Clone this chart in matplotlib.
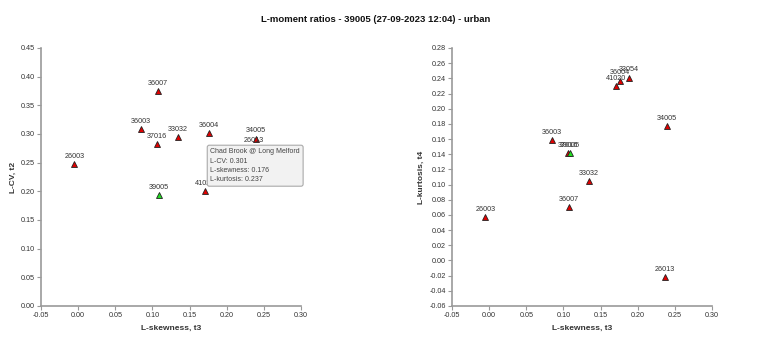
import matplotlib
matplotlib.use("Agg")
import matplotlib.pyplot as plt

plt.rcParams['font.family'] = ['Liberation Sans', 'DejaVu Sans']

stations = ["26003", "36007", "36003", "37016", "33032", "36004", "34005",
            "26013", "41020", "33054", "39005"]
t3 = [-0.005, 0.107, 0.084, 0.106, 0.134, 0.176, 0.239, 0.237, 0.171, 0.188, 0.109]
lcv = [0.248, 0.375, 0.308, 0.283, 0.295, 0.301, 0.292, 0.276, 0.200, 0.235, 0.193]
t4 = [0.057, 0.070, 0.159, 0.141, 0.105, 0.237, 0.177, -0.022, 0.230, 0.241, 0.142]
target = "39005"
tip_station = "36004"
tip_name = "Chad Brook @ Long Melford"

title = "L-moment ratios - 39005 (27-09-2023 12:04) - urban"
xlabel = "L-skewness, t3"
ylabel_left = "L-CV, t2"
ylabel_right = "L-kurtosis, t4"
xticks = [-0.05, 0.00, 0.05, 0.10, 0.15, 0.20, 0.25, 0.30]
yticks_left = [0.00, 0.05, 0.10, 0.15, 0.20, 0.25, 0.30, 0.35, 0.40, 0.45]
yticks_right = [-0.06, -0.04, -0.02, 0.00, 0.02, 0.04, 0.06, 0.08, 0.10, 0.12,
                0.14, 0.16, 0.18, 0.20, 0.22, 0.24, 0.26, 0.28]

fig = plt.figure(figsize=(7.74, 3.6), dpi=100)
axL = fig.add_axes([41/774, 54/360, 260/774, 258/360])
axR = fig.add_axes([452/774, 54/360, 260/774, 258/360])

spine_c = "#999999"
text_c = "#333333"

def style(ax, yt, ylab):
    for s in ["top", "right"]:
        ax.spines[s].set_visible(False)
    for s in ["left", "bottom"]:
        ax.spines[s].set_color(spine_c)
        ax.spines[s].set_linewidth(1.2)
    ax.set_xlim(xticks[0], xticks[-1])
    ax.set_ylim(yt[0], yt[-1])
    ax.set_xticks(xticks)
    ax.set_xticklabels([f"{v:.2f}" for v in xticks])
    ax.set_yticks(yt)
    ax.set_yticklabels([f"{v:.2f}" for v in yt])
    ax.tick_params(axis="both", direction="out", length=3, width=0.8,
                   color=spine_c, labelsize=5.2, labelcolor=text_c, pad=1.5)
    ax.set_xlabel(xlabel, fontsize=6, fontweight="bold", color=text_c, labelpad=4)
    ax.set_ylabel(ylab, fontsize=6, fontweight="bold", color=text_c, labelpad=3)

def draw(ax, ys):
    for name, x, y in zip(stations, t3, ys):
        c = "#22dd22" if name == target else "#e00000"
        z = 4 if name == target else 3
        ax.plot([x], [y], marker="^", markersize=4.5, color=c,
                markeredgecolor="#222222", markeredgewidth=0.6, linestyle="none",
                zorder=z)
        ax.annotate(name, (x, y), xytext=(0, 3), textcoords="offset points",
                    ha="center", va="bottom", fontsize=5.2, color=text_c, zorder=z)

style(axL, yticks_left, ylabel_left)
style(axR, yticks_right, ylabel_right)
draw(axL, lcv)
draw(axR, t4)

i = stations.index(tip_station)
tip = (f"{tip_name}\nL-CV: {lcv[i]:.3f}\nL-skewness: {t3[i]:.3f}\n"
       f"L-kurtosis: {t4[i]:.3f}")
axL.text(0.178, 0.275, tip, ha="left", va="top", fontsize=5, color="#444444",
         linespacing=1.45, zorder=10,
         bbox=dict(boxstyle="round,pad=0.45,rounding_size=0.3",
                   facecolor="#f2f2f2", edgecolor="#aaaaaa", linewidth=0.8))

fig.text(376/774, 1 - 20/360, title, ha="center", va="center", fontsize=6.8,
         fontweight="bold", color="#111111")

fig.savefig("out.png", dpi=100)
